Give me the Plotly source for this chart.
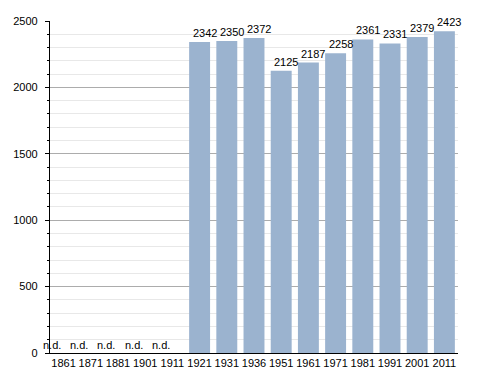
import plotly.graph_objects as go

years = ["1861", "1871", "1881", "1901", "1911", "1921", "1931", "1936",
         "1951", "1961", "1971", "1981", "1991", "2001", "2011"]
population = [None, None, None, None, None, 2342, 2350, 2372,
              2125, 2187, 2258, 2361, 2331, 2379, 2423]
nd_years = ["1861", "1871", "1881", "1901", "1911"]

FONT = "Liberation Sans, Arial, sans-serif"

fig = go.Figure()
fig.add_trace(go.Bar(
    x=years, y=population,
    marker=dict(color="#9bb3cf", line=dict(width=0)),
    cliponaxis=False, width=0.77, hoverinfo="x+y",
))

n = len(years)
for idx, v in enumerate(population):
    if v is None:
        continue
    fig.add_annotation(x=idx, y=v, text=str(v), showarrow=False,
                       xref="x", yref="y", yanchor="bottom", xshift=5, yshift=1,
                       font=dict(family=FONT, size=11, color="#000"))

for yr in nd_years:
    idx = years.index(yr)
    fig.add_annotation(x=(idx + 0.5 - 0.83) / n, y=0, text="n.d.", showarrow=False,
                       xref="paper", yref="y", yanchor="bottom", yshift=0,
                       font=dict(family=FONT, size=11, color="#000"))

fig.update_layout(
    width=480, height=365,
    margin=dict(l=42, r=30, t=13, b=20, autoexpand=False),
    paper_bgcolor="white", plot_bgcolor="white",
    showlegend=False,
    font=dict(family=FONT, size=11, color="#000"),
    xaxis=dict(type="category", range=[-0.5, 14.5], showgrid=False, automargin=False,
               showline=True, linecolor="#000", linewidth=1.2,
               ticks="", tickfont=dict(size=11)),
    yaxis=dict(range=[0, 2500], dtick=500, showgrid=True, gridcolor="#acacac", gridwidth=1,
               showline=True, linecolor="#000", linewidth=1.2, automargin=False,
               ticks="outside", ticklen=4, tickcolor="#000", tickfont=dict(size=11),
               zeroline=False, ticklabelstandoff=5,
               minor=dict(dtick=100, showgrid=True, gridcolor="#e8e8e8", ticks="outside",
                          ticklen=2, tickcolor="#000")),
)

fig.write_html("out.html")
